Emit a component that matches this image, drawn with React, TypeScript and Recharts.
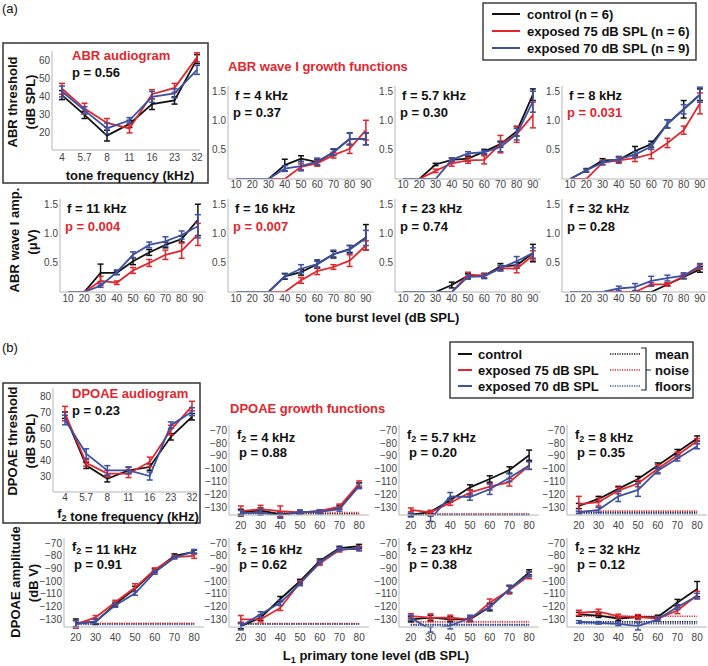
import React from "react";
import { LineChart, Line, XAxis, YAxis, ErrorBar, ReferenceLine } from "recharts";

const BLACK = "#111111";
const RED = "#e3262d";
const BLUE = "#3b51a3";
const AXIS = "#b5b5b5";
const FONT = "'Liberation Sans', Arial, sans-serif";

// ---------- (a) ABR ----------
const freqs = ["4", "5.7", "8", "11", "16", "23", "32"];
const abrLevels = [10, 20, 30, 40, 50, 60, 70, 80, 90];

const abrAudCtl = [40.5, 29.5, 18, 24.5, 35.5, 37.5, 60.5];
const abrAudCtlErr = [2.5, 2, 3, 2, 3, 2, 2.5];
const abrAudE75 = [44, 33, 25, 22, 41, 44.5, 61.5];
const abrAudE75Err = [3, 3, 2.5, 2.5, 2.5, 2.5, 2.5];
const abrAudE70 = [42.5, 32, 22, 26.5, 39.5, 41.5, 54.5];
const abrAudE70Err = [3, 2, 3, 1.5, 3, 2.5, 2.5];

const abr4Ctl = [0, 0, 0, 0.24, 0.35, 0.29, 0.46, 0.69, 0.69];
const abr4CtlErr = [0, 0, 0, 0.1, 0.05, 0.05, 0.05, 0.1, 0.1];
const abr4E75 = [0, 0, 0, 0, 0.21, 0.27, 0.41, 0.52, 0.84];
const abr4E75Err = [0, 0, 0, 0, 0.05, 0.05, 0.05, 0.08, 0.17];
const abr4E70 = [0, 0, 0, 0.18, 0.22, 0.3, 0.46, 0.69, 0.69];
const abr4E70Err = [0, 0, 0, 0.05, 0.08, 0.06, 0.06, 0.1, 0.1];

const abr57Ctl = [0, 0, 0.25, 0.33, 0.35, 0.47, 0.6, 0.82, 1.45];
const abr57CtlErr = [0, 0, 0.02, 0.03, 0.04, 0.04, 0.05, 0.08, 0.1];
const abr57E75 = [0, 0, 0.14, 0.27, 0.32, 0.33, 0.6, 0.77, 1.1];
const abr57E75Err = [0, 0, 0.03, 0.05, 0.05, 0.07, 0.15, 0.14, 0.22];
const abr57E70 = [0, 0, 0, 0.33, 0.44, 0.46, 0.55, 0.77, 1.33];
const abr57E70Err = [0, 0, 0, 0.03, 0.03, 0.03, 0.08, 0.1, 0.18];

const abr8Ctl = [0, 0.15, 0.32, 0.33, 0.48, 0.6, 0.95, 1.2, 1.45];
const abr8CtlErr = [0, 0.03, 0.03, 0.04, 0.08, 0.05, 0.07, 0.15, 0.1];
const abr8E75 = [0, 0, 0.28, 0.32, 0.36, 0.43, 0.62, 0.84, 1.3];
const abr8E75Err = [0, 0, 0.04, 0.05, 0.06, 0.08, 0.08, 0.07, 0.18];
const abr8E70 = [0, 0.15, 0.28, 0.34, 0.42, 0.56, 0.95, 1.2, 1.45];
const abr8E70Err = [0, 0.02, 0.03, 0.05, 0.05, 0.05, 0.07, 0.08, 0.13];

const abr11Ctl = [0, 0, 0.33, 0.33, 0.53, 0.68, 0.81, 0.91, 1.24];
const abr11CtlErr = [0, 0, 0.15, 0.03, 0.06, 0.05, 0.05, 0.05, 0.27];
const abr11E75 = [0, 0, 0.19, 0.16, 0.37, 0.5, 0.64, 0.71, 0.99];
const abr11E75Err = [0, 0, 0.08, 0.03, 0.05, 0.06, 0.08, 0.13, 0.19];
const abr11E70 = [0, 0, 0.11, 0.34, 0.64, 0.81, 0.87, 0.98, 1.13];
const abr11E70Err = [0, 0, 0.03, 0.04, 0.05, 0.05, 0.08, 0.07, 0.2];

const abr16Ctl = [0, 0, 0, 0.27, 0.34, 0.48, 0.65, 0.74, 0.94];
const abr16CtlErr = [0, 0, 0, 0.05, 0.05, 0.07, 0.05, 0.06, 0.22];
const abr16E75 = [0, 0, 0, 0, 0.2, 0.36, 0.43, 0.54, 0.8];
const abr16E75Err = [0, 0, 0, 0, 0.05, 0.06, 0.04, 0.1, 0.08];
const abr16E70 = [0, 0, 0, 0.27, 0.4, 0.48, 0.65, 0.73, 0.93];
const abr16E70Err = [0, 0, 0, 0.04, 0.07, 0.05, 0.07, 0.07, 0.13];

const abr23Ctl = [0, 0, 0, 0.12, 0.28, 0.28, 0.44, 0.46, 0.67];
const abr23CtlErr = [0, 0, 0, 0.05, 0.04, 0.04, 0.05, 0.05, 0.15];
const abr23E75 = [0, 0, 0, 0, 0.3, 0.28, 0.41, 0.4, 0.63];
const abr23E75Err = [0, 0, 0, 0, 0.04, 0.04, 0.04, 0.07, 0.08];
const abr23E70 = [0, 0, 0, 0, 0.26, 0.27, 0.41, 0.53, 0.67];
const abr23E70Err = [0, 0, 0, 0, 0.04, 0.04, 0.05, 0.08, 0.09];

const abr32Ctl = [0, 0, 0, 0, 0, 0, 0.13, 0.26, 0.39];
const abr32CtlErr = [0, 0, 0, 0, 0, 0, 0.02, 0.03, 0.05];
const abr32E75 = [0, 0, 0, 0, 0, 0.13, 0.13, 0.27, 0.43];
const abr32E75Err = [0, 0, 0, 0, 0, 0.03, 0.03, 0.04, 0.04];
const abr32E70 = [0, 0, 0, 0.06, 0.085, 0.19, 0.24, 0.28, 0.45];
const abr32E70Err = [0, 0, 0, 0.04, 0.06, 0.08, 0.05, 0.05, 0.04];

// ---------- (b) DPOAE ----------
const dpLevels = [20, 30, 40, 50, 60, 70, 80];

const dpAudCtl = [68, 36.7, 28.3, 33.5, 35.6, 54.5, 67];
const dpAudCtlErr = [2, 2, 2, 2, 2, 2, 2];
const dpAudE75 = [69, 38.2, 31.5, 31.5, 38.8, 58.7, 73.7];
const dpAudE75Err = [4.5, 2, 2, 2.5, 3, 3, 3];
const dpAudE70 = [65, 44, 33.5, 33.5, 30, 61.8, 70.2];
const dpAudE70Err = [3, 3, 3, 2, 2.5, 2, 2.5];

const dp4Ctl = [-133.5, -132.5, -135.5, -134, -133, -130, -113];
const dp4CtlErr = [2, 2, 2, 1, 1, 1.5, 2];
const dp4E75 = [-133, -131.5, -133, -134, -133, -129.5, -111.5];
const dp4E75Err = [4, 3, 4, 1, 1, 2, 2];
const dp4E70 = [-134.5, -134, -136.5, -133.5, -133.5, -131.5, -113.5];
const dp4E70Err = [2, 2, 2, 1.5, 1.5, 1.5, 2];
const dp4Noise = [-135, -134, -136.5];

const dp57Ctl = [-136, -133.5, -124.5, -114.5, -108, -101, -89.5];
const dp57CtlErr = [1, 1, 1.5, 2, 2.5, 2.5, 4];
const dp57E75 = [-132, -134, -126.5, -118.5, -114, -110.5, -97.5];
const dp57E75Err = [1.5, 1.5, 2, 2, 2.5, 3, 3];
const dp57E70 = [-136, -139, -121.5, -122, -116, -107, -97.5];
const dp57E70Err = [1.5, 2, 3, 2.5, 4, 3, 3];
const dp57Noise = [-135.5, -135.3, -135.8];

const dp8Ctl = [-129, -123.5, -115.7, -108, -97.5, -87, -76.5];
const dp8CtlErr = [2, 2, 2, 2, 2, 2, 2];
const dp8E75 = [-127.5, -126, -117, -111.5, -100, -89.5, -78.5];
const dp8E75Err = [6, 3, 2.5, 2.5, 3, 2.5, 2];
const dp8E70 = [-134, -132, -121.5, -116.5, -101.5, -92, -82.5];
const dp8E70Err = [1, 2, 4, 5, 2.5, 2, 2];
const dp8Noise = [-134, -133, -134.8];

const dp11Ctl = [-132.7, -132, -118, -106, -91.7, -80, -77];
const dp11CtlErr = [3, 2, 1.5, 2, 1.5, 1.5, 1.5];
const dp11E75 = [-134, -128.5, -116.5, -105, -91, -81, -80];
const dp11E75Err = [3, 1.5, 1.5, 3, 1.5, 1, 2];
const dp11E70 = [-133.5, -131.5, -119, -109.5, -93, -81.5, -76.5];
const dp11E70Err = [2.5, 2, 1.5, 1.5, 1.5, 1, 1.5];
const dp11Noise = [-133.5, -133, -134];

const dp16Ctl = [-135.3, -128.7, -114, -100, -84, -74, -72.5];
const dp16CtlErr = [2, 2, 2, 1.5, 1.5, 1.5, 1.5];
const dp16E75 = [-130, -130, -121, -101, -86, -75.5, -74];
const dp16E75Err = [3, 2, 2, 1.5, 1.5, 1.5, 1.5];
const dp16E70 = [-135.3, -126, -117, -102, -85, -74.7, -74.7];
const dp16E70Err = [3, 2, 2, 1.5, 1.5, 1.5, 1.5];
const dp16Noise = [-133.5, -133.3, -133.8];

const dp23Ctl = [-130, -128.7, -130, -130, -120.3, -106.2, -93];
const dp23CtlErr = [2, 2, 2, 1.5, 3, 3, 2];
const dp23E75 = [-127.5, -128.7, -128.7, -130, -117, -107, -95.5];
const dp23E75Err = [2, 3, 2, 2, 3, 3, 2.5];
const dp23E70 = [-128.7, -138, -135, -128.7, -120.3, -106.2, -94.5];
const dp23E70Err = [2, 2, 2.5, 2, 2, 2.5, 2];
const dp23Noise = [-134, -132, -134.5];

const dp32Ctl = [-126, -127, -129.3, -128.2, -128.2, -116.8, -106.2];
const dp32CtlErr = [1.5, 1.5, 1.5, 1.5, 1.5, 2.5, 6];
const dp32E75 = [-124.8, -124, -127.4, -128.2, -129.3, -123, -111];
const dp32E75Err = [2, 2, 1.5, 2, 1.5, 2.5, 3];
const dp32E70 = [-132, -132.7, -133.5, -135.3, -130, -120.3, -111.6];
const dp32E70Err = [1, 1, 1.5, 3, 1.5, 2, 2];
const dp32Noise = [-132, -127.5, -133.5];

type Row = { x: number | string; c: number; cE: number; r: number; rE: number; b: number; bE: number };

function makeRows(xs: (number | string)[], s: number[][]): Row[] {
  return xs.map((x, i) => ({
    x,
    c: s[0][i], cE: s[1][i],
    r: s[2][i], rE: s[3][i],
    b: s[4][i], bE: s[5][i],
  }));
}

const PAD = 8;
const YW = 40;
const XH = 22;

interface PanelProps {
  px: number; // plot left
  py: number; // plot top
  w: number;
  h: number;
  rows: Row[];
  category?: boolean;
  xDomain?: number[];
  xTicks?: number[];
  xPadding?: { left: number; right: number };
  yDomain: number[];
  yTicks: number[];
  yFmt?: (v: number) => string;
  xGap: number;
  noise?: number[];
  noiseRange?: number[];
}

const tickStyle = { fontSize: 10, fill: "#444", fontFamily: FONT };

const Panel: React.FC<PanelProps> = (p) => {
  const colors = [BLACK, RED, BLUE];
  return (
    <div style={{ position: "absolute", left: p.px - YW, top: p.py - PAD }}>
      <LineChart
        width={YW + p.w + PAD}
        height={PAD + p.h + XH}
        data={p.rows}
        margin={{ top: PAD, right: PAD, left: 0, bottom: 0 }}
      >
        {p.category ? (
          <XAxis
            dataKey="x"
            type="category"
            padding={p.xPadding}
            height={XH}
            tickLine={false}
            tickSize={0}
            tickMargin={p.xGap}
            stroke={AXIS}
            tick={tickStyle}
            interval={0}
          />
        ) : (
          <XAxis
            dataKey="x"
            type="number"
            domain={p.xDomain}
            ticks={p.xTicks}
            allowDataOverflow
            height={XH}
            tickLine={false}
            tickSize={0}
            tickMargin={p.xGap}
            stroke={AXIS}
            tick={tickStyle}
            interval={0}
          />
        )}
        <YAxis
          type="number"
          domain={p.yDomain}
          ticks={p.yTicks}
          allowDataOverflow
          width={YW}
          tickLine={false}
          tickSize={0}
          tickMargin={2}
          stroke={AXIS}
          tick={tickStyle}
          interval={0}
          tickFormatter={p.yFmt}
        />
        {p.noise &&
          p.noise.map((v, i) => (
            <ReferenceLine
              key={"n" + i}
              segment={[
                { x: p.noiseRange![0], y: v },
                { x: p.noiseRange![1], y: v },
              ]}
              stroke={colors[i]}
              strokeWidth={1.6}
              strokeDasharray="1.2 1.2"
            />
          ))}
        {[
          ["c", "cE"],
          ["r", "rE"],
          ["b", "bE"],
        ].map(([k, e], i) => (
          <Line
            key={k}
            dataKey={k}
            stroke={colors[i]}
            strokeWidth={1.8}
            dot={false}
            isAnimationActive={false}
            type="linear"
          >
            <ErrorBar dataKey={e} width={3} stroke={colors[i]} strokeWidth={1.5} isAnimationActive={false} />
          </Line>
        ))}
      </LineChart>
    </div>
  );
};

const minus = (v: number) => String(v).replace("-", "\u2212");
const oneDec = (v: number) => v.toFixed(1);

// ABR growth panel geometry
const abrCols = [60, 228, 395, 562];
const abrRowTop = [86, 199];
const abrW = 146;
const abrH = 93;
const abrGap = [2, 2.5];

const dpCols = [64, 229, 399, 567];
const dpRowTop = [425, 538];
const dpW = 140;
const dpH = 90;

const abrPanels = [
  { col: 1, row: 0, f: "4", p: "0.37", sig: false, s: [abr4Ctl, abr4CtlErr, abr4E75, abr4E75Err, abr4E70, abr4E70Err] },
  { col: 2, row: 0, f: "5.7", p: "0.30", sig: false, s: [abr57Ctl, abr57CtlErr, abr57E75, abr57E75Err, abr57E70, abr57E70Err] },
  { col: 3, row: 0, f: "8", p: "0.031", sig: true, s: [abr8Ctl, abr8CtlErr, abr8E75, abr8E75Err, abr8E70, abr8E70Err] },
  { col: 0, row: 1, f: "11", p: "0.004", sig: true, s: [abr11Ctl, abr11CtlErr, abr11E75, abr11E75Err, abr11E70, abr11E70Err] },
  { col: 1, row: 1, f: "16", p: "0.007", sig: true, s: [abr16Ctl, abr16CtlErr, abr16E75, abr16E75Err, abr16E70, abr16E70Err] },
  { col: 2, row: 1, f: "23", p: "0.74", sig: false, s: [abr23Ctl, abr23CtlErr, abr23E75, abr23E75Err, abr23E70, abr23E70Err] },
  { col: 3, row: 1, f: "32", p: "0.28", sig: false, s: [abr32Ctl, abr32CtlErr, abr32E75, abr32E75Err, abr32E70, abr32E70Err] },
];

const dpPanels = [
  { col: 1, row: 0, f: "4", p: "0.88", n: dp4Noise, s: [dp4Ctl, dp4CtlErr, dp4E75, dp4E75Err, dp4E70, dp4E70Err] },
  { col: 2, row: 0, f: "5.7", p: "0.20", n: dp57Noise, s: [dp57Ctl, dp57CtlErr, dp57E75, dp57E75Err, dp57E70, dp57E70Err] },
  { col: 3, row: 0, f: "8", p: "0.35", n: dp8Noise, s: [dp8Ctl, dp8CtlErr, dp8E75, dp8E75Err, dp8E70, dp8E70Err] },
  { col: 0, row: 1, f: "11", p: "0.91", n: dp11Noise, s: [dp11Ctl, dp11CtlErr, dp11E75, dp11E75Err, dp11E70, dp11E70Err] },
  { col: 1, row: 1, f: "16", p: "0.62", n: dp16Noise, s: [dp16Ctl, dp16CtlErr, dp16E75, dp16E75Err, dp16E70, dp16E70Err] },
  { col: 2, row: 1, f: "23", p: "0.38", n: dp23Noise, s: [dp23Ctl, dp23CtlErr, dp23E75, dp23E75Err, dp23E70, dp23E70Err] },
  { col: 3, row: 1, f: "32", p: "0.12", n: dp32Noise, s: [dp32Ctl, dp32CtlErr, dp32E75, dp32E75Err, dp32E70, dp32E70Err] },
];

const B = { fontWeight: 700, fontSize: 13, fontFamily: FONT } as const;

const Sub2: React.FC = () => (
  <>
    f<tspan fontSize={9} dy={3}>2</tspan>
    <tspan dy={-3}></tspan>
  </>
);

export default function App() {
  return (
    <div
      style={{
        position: "absolute",
        left: 0,
        top: 0,
        width: 708,
        height: 666,
        background: "#fff",
        overflow: "hidden",
        fontFamily: FONT,
      }}
    >
      {/* (a) audiogram */}
      <Panel
        px={52}
        py={51}
        w={148}
        h={99}
        rows={makeRows(freqs, [abrAudCtl, abrAudCtlErr, abrAudE75, abrAudE75Err, abrAudE70, abrAudE70Err])}
        category
        xPadding={{ left: 10, right: 3 }}
        yDomain={[10, 65]}
        yTicks={[20, 30, 40, 50, 60]}
        xGap={4}
      />
      {abrPanels.map((q) => (
        <Panel
          key={"a" + q.f}
          px={abrCols[q.col]}
          py={abrRowTop[q.row]}
          w={abrW}
          h={abrH}
          rows={makeRows(abrLevels, q.s)}
          xDomain={[5, 95]}
          xTicks={abrLevels}
          yDomain={[0, 1.6]}
          yTicks={[0.5, 1, 1.5]}
          yFmt={oneDec}
          xGap={abrGap[q.row]}
        />
      ))}

      {/* (b) audiogram */}
      <Panel
        px={53}
        py={388}
        w={144}
        h={104}
        rows={makeRows(freqs, [dpAudCtl, dpAudCtlErr, dpAudE75, dpAudE75Err, dpAudE70, dpAudE70Err])}
        category
        xPadding={{ left: 12, right: 5 }}
        yDomain={[20, 85]}
        yTicks={[30, 40, 50, 60, 70, 80]}
        xGap={2}
      />
      {dpPanels.map((q) => (
        <Panel
          key={"b" + q.f}
          px={dpCols[q.col]}
          py={dpRowTop[q.row]}
          w={dpW}
          h={dpH - (q.row === 1 ? 1 : 0)}
          rows={makeRows(dpLevels, q.s)}
          xDomain={[14, 85]}
          xTicks={dpLevels}
          yDomain={[-136, -66]}
          yTicks={[-130, -120, -110, -100, -90, -80, -70]}
          yFmt={minus}
          xGap={6.5}
          noise={q.n}
          noiseRange={[20, 80]}
        />
      ))}

      <svg
        width={708}
        height={666}
        style={{ position: "absolute", left: 0, top: 0, pointerEvents: "none" }}
      >
        {/* ---------- (a) ---------- */}
        <text x={2} y={13} fontSize={13} fontFamily={FONT} fill={BLACK}>(a)</text>
        <rect x={483} y={3} width={213} height={57} fill="none" stroke="#222" strokeWidth={1.3} />
        {[
          [BLACK, "control (n = 6)"],
          [RED, "exposed 75 dB SPL (n = 6)"],
          [BLUE, "exposed 70 dB SPL (n = 9)"],
        ].map(([c, t], i) => (
          <g key={t}>
            <line x1={492} x2={520} y1={14 + i * 17} y2={14 + i * 17} stroke={c} strokeWidth={2} />
            <text x={527} y={18.5 + i * 17} {...B} fill={BLACK}>{t}</text>
          </g>
        ))}

        <rect x={3} y={43} width={205} height={140} fill="none" stroke="#333" strokeWidth={1.5} />
        <text x={72} y={60} {...B} fill={RED}>ABR audiogram</text>
        <text x={72} y={77} {...B} fill={BLACK}>p = 0.56</text>
        <text transform="translate(12,102) rotate(-90)" textAnchor="middle" dominantBaseline="central" {...B} fill={BLACK}>ABR threshold</text>
        <text transform="translate(30,102) rotate(-90)" textAnchor="middle" dominantBaseline="central" {...B} fill={BLACK}>(dB SPL)</text>
        <text x={130} y={180} textAnchor="middle" {...B} fill={BLACK}>tone frequency (kHz)</text>

        <text x={228} y={71} {...B} fill={RED}>ABR wave I growth functions</text>
        {abrPanels.map((q) => (
          <g key={"at" + q.f}>
            <text x={abrCols[q.col] + 7} y={abrRowTop[q.row] + 14} {...B} fill={BLACK}>{`f = ${q.f} kHz`}</text>
            <text x={abrCols[q.col] + 5} y={abrRowTop[q.row] + 31 + q.row} {...B} fill={q.sig ? RED : BLACK}>{`p = ${q.p}`}</text>
          </g>
        ))}
        <text transform="translate(14,240) rotate(-90)" textAnchor="middle" dominantBaseline="central" {...B} fill={BLACK}>ABR wave I amp.</text>
        <text transform="translate(32,242) rotate(-90)" textAnchor="middle" dominantBaseline="central" {...B} fill={BLACK}>(μV)</text>
        <text x={382} y={322} textAnchor="middle" {...B} fill={BLACK}>tone burst level (dB SPL)</text>

        {/* ---------- (b) ---------- */}
        <text x={2} y={352} fontSize={13} fontFamily={FONT} fill={BLACK}>(b)</text>
        <rect x={450} y={342} width={243} height={56} fill="none" stroke="#222" strokeWidth={1.3} />
        {[
          [BLACK, "control"],
          [RED, "exposed 75 dB SPL"],
          [BLUE, "exposed 70 dB SPL"],
        ].map(([c, t], i) => (
          <g key={t}>
            <line x1={458} x2={472} y1={354 + i * 16} y2={354 + i * 16} stroke={c} strokeWidth={2} />
            <text x={478} y={358.5 + i * 16} {...B} fill={BLACK}>{t}</text>
            <line x1={610} x2={640} y1={354 + i * 16} y2={354 + i * 16} stroke={c} strokeWidth={1.6} strokeDasharray="1.2 1.2" />
          </g>
        ))}
        <path d="M641 348 H646 V390 H641 M646 370 H651" fill="none" stroke="#222" strokeWidth={1.2} />
        {["mean", "noise", "floors"].map((t, i) => (
          <text key={t} x={655} y={358.5 + i * 16} {...B} fill={BLACK}>{t}</text>
        ))}

        <rect x={3} y={383} width={197} height={140} fill="none" stroke="#333" strokeWidth={1.5} />
        <text x={72} y={398} {...B} fill={RED}>DPOAE audiogram</text>
        <text x={72} y={415} {...B} fill={BLACK}>p = 0.23</text>
        <text transform="translate(12,441) rotate(-90)" textAnchor="middle" dominantBaseline="central" {...B} fill={BLACK}>DPOAE threshold</text>
        <text transform="translate(30,441) rotate(-90)" textAnchor="middle" dominantBaseline="central" {...B} fill={BLACK}>(dB SPL)</text>
        <text x={128} y={518} textAnchor="middle" {...B} fill={BLACK}>
          <Sub2 /> tone frequency (kHz)
        </text>

        <text x={230} y={413} {...B} fill={RED}>DPOAE growth functions</text>
        {dpPanels.map((q) => (
          <g key={"bt" + q.f}>
            <text x={dpCols[q.col] + 8} y={dpRowTop[q.row] + 14 - q.row} {...B} fill={BLACK}>
              <Sub2 />{` = ${q.f} kHz`}
            </text>
            <text x={dpCols[q.col] + 10} y={dpRowTop[q.row] + 32 - q.row} {...B} fill={BLACK}>{`p = ${q.p}`}</text>
          </g>
        ))}
        <text transform="translate(15,582) rotate(-90)" textAnchor="middle" dominantBaseline="central" {...B} fill={BLACK}>DPOAE amplitude</text>
        <text transform="translate(33,583) rotate(-90)" textAnchor="middle" dominantBaseline="central" {...B} fill={BLACK}>(dB V)</text>
        <text x={376} y={660} textAnchor="middle" {...B} fill={BLACK}>
          L<tspan fontSize={9} dy={3}>1</tspan><tspan dy={-3}> primary tone level (dB SPL)</tspan>
        </text>
      </svg>
    </div>
  );
}
